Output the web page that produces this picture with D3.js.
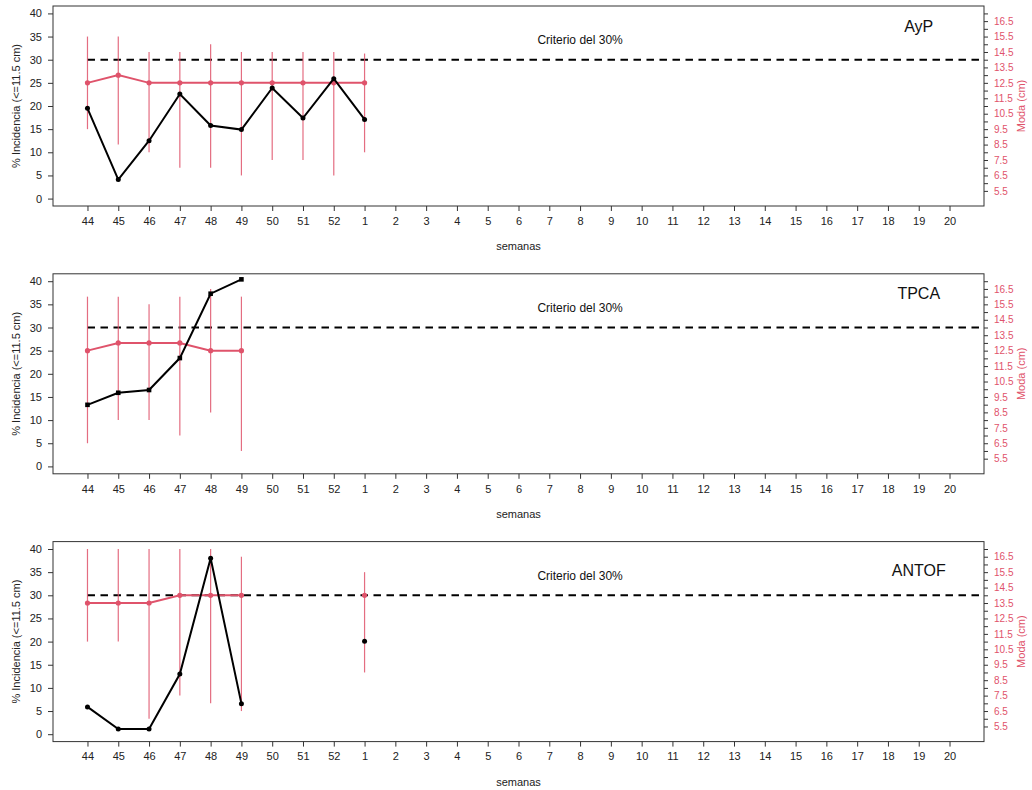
<!DOCTYPE html>
<html>
<head>
<meta charset="utf-8">
<script src="https://cdn.jsdelivr.net/npm/d3@7"></script>
<style>
  body { margin: 0; background: #fff; }
  svg { display: block; font-family: "Liberation Sans", Arial, sans-serif; }
</style>
</head>
<body>
<div id="chart"></div>
<script>
// weeks on the x axis
const weeks = ["44","45","46","47","48","49","50","51","52","1","2","3","4","5","6","7","8","9","10","11","12","13","14","15","16","17","18","19","20"];

// % incidence (<=11.5 cm), black line
const incAyP   = [19.5, 4.1, 12.5, 22.6, 15.8, 14.9, 23.9, 17.4, 25.9, 17.1];
const incTPCA  = [13.3, 15.9, 16.5, 23.4, 37.3, 40.4];
const incANTOF = [5.9, 1.1, 1.1, 13.0, 38.0, 6.6, null, null, null, 20.1];

// moda (cm), pink line + range bars
const modaAyP   = [12.5, 13, 12.5, 12.5, 12.5, 12.5, 12.5, 12.5, 12.5, 12.5];
const modaLoAyP = [9.5, 8.5, 8, 7, 7, 6.5, 7.5, 7.5, 6.5, 8];
const modaHiAyP = [15.5, 15.5, 14.5, 14.5, 15, 14.5, 14.5, 14.5, 14.5, 14.4];

const modaTPCA   = [12.5, 13, 13, 13, 12.5, 12.5];
const modaLoTPCA = [6.5, 8, 8, 7, 8.5, 6];
const modaHiTPCA = [16, 16, 15.5, 16, 16.5, 16];

const modaANTOF   = [13.5, 13.5, 13.5, 14, 14, 14, null, null, null, 14];
const modaLoANTOF = [11, 11, 6, 7.5, 7, 6.5, null, null, null, 9];
const modaHiANTOF = [17, 17, 17, 17, 17, 16.5, null, null, null, 15.5];

const incTicks  = [0, 5, 10, 15, 20, 25, 30, 35, 40];
const modaTicks = d3.range(5.5, 17.01, 0.5);
const criterio = 30;

const panels = [
  {name: "AyP",   inc: incAyP,   moda: modaAyP,   lo: modaLoAyP,   hi: modaHiAyP,   labelY: 37, square: false},
  {name: "TPCA",  inc: incTPCA,  moda: modaTPCA,  lo: modaLoTPCA,  hi: modaHiTPCA,  labelY: 37, square: true},
  {name: "ANTOF", inc: incANTOF, moda: modaANTOF, lo: modaLoANTOF, hi: modaHiANTOF, labelY: 35, square: false}
];

const W = 1032, H = 790;
const pink = "#DF536B";
const left = 53, right = 984, plotH = 200, pitch = 267.8, top0 = 6;

const svg = d3.select("#chart").append("svg")
  .attr("width", W).attr("height", H);

svg.append("rect").attr("width", W).attr("height", H).attr("fill", "#fff");

// same x scale for every panel (R style 4% padding)
const x = d3.scalePoint().domain(weeks).range([left, right]).padding(1.12);

panels.forEach((p, i) => {
  const top = top0 + i * pitch;
  const bottom = top + plotH;
  const g = svg.append("g");

  const yL = d3.scaleLinear().domain([-1.6, 41.6]).range([bottom, top]);
  const yR = d3.scaleLinear().domain([4.52, 17.48]).range([bottom, top]);

  // frame
  g.append("rect")
    .attr("x", left).attr("y", top)
    .attr("width", right - left).attr("height", plotH)
    .attr("fill", "none").attr("stroke", "#333").attr("stroke-width", 1);

  // x axis
  const ax = g.append("g").attr("transform", `translate(0,${bottom})`)
    .call(d3.axisBottom(x).tickSize(5).tickPadding(6).tickSizeOuter(0));
  ax.select(".domain").remove();
  ax.selectAll("line").attr("stroke", "#333");
  ax.selectAll("text").attr("font-size", 11).attr("fill", "#222");

  // left axis
  const ay = g.append("g").attr("transform", `translate(${left},0)`)
    .call(d3.axisLeft(yL).tickValues(incTicks).tickSize(5).tickPadding(6));
  ay.select(".domain").remove();
  ay.selectAll("line").attr("stroke", "#333");
  ay.selectAll("text").attr("font-size", 11).attr("fill", "#222");

  // right axis (moda), labels only on the x.5 ticks
  const ar = g.append("g").attr("transform", `translate(${right},0)`)
    .call(d3.axisRight(yR).tickValues(modaTicks).tickSize(4).tickPadding(6)
      .tickFormat(v => Math.round(v * 2) % 2 === 1 ? d3.format(".1f")(v) : ""));
  ar.select(".domain").remove();
  ar.selectAll("line").attr("stroke", "#333");
  ar.selectAll("text").attr("font-size", 10).attr("fill", pink);

  // axis titles
  g.append("text")
    .attr("transform", `translate(17,${top + plotH / 2}) rotate(-90)`)
    .attr("text-anchor", "middle").attr("dominant-baseline", "middle")
    .attr("font-size", 11).attr("fill", "#222")
    .text("% Incidencia (<=11.5 cm)");
  g.append("text")
    .attr("transform", `translate(1022,${top + plotH / 2}) rotate(-90)`)
    .attr("text-anchor", "middle").attr("dominant-baseline", "middle")
    .attr("font-size", 11).attr("fill", pink)
    .text("Moda (cm)");
  g.append("text")
    .attr("x", (left + right) / 2).attr("y", bottom + 44)
    .attr("text-anchor", "middle")
    .attr("font-size", 11).attr("fill", "#222")
    .text("semanas");

  // 30% criterion
  g.append("line")
    .attr("x1", x("44")).attr("x2", right)
    .attr("y1", yL(criterio)).attr("y2", yL(criterio))
    .attr("stroke", "#000").attr("stroke-width", 2)
    .attr("stroke-dasharray", "7.5,5.5");
  g.append("text")
    .attr("x", x("8")).attr("y", yL(34))
    .attr("text-anchor", "middle").attr("dominant-baseline", "middle")
    .attr("font-size", 12).attr("fill", "#111")
    .text("Criterio del 30%");

  // zone label
  g.append("text")
    .attr("x", x("19")).attr("y", yL(p.labelY))
    .attr("text-anchor", "middle").attr("dominant-baseline", "middle")
    .attr("font-size", 16).attr("fill", "#111")
    .text(p.name);

  // moda range bars
  const bars = p.moda.map((m, j) => ({w: weeks[j], lo: p.lo[j], hi: p.hi[j]})).filter(d => d.lo != null);
  g.selectAll(".bar").data(bars).enter().append("line")
    .attr("x1", d => x(d.w)).attr("x2", d => x(d.w))
    .attr("y1", d => yR(d.lo)).attr("y2", d => yR(d.hi))
    .attr("stroke", pink).attr("stroke-width", 1.2).attr("stroke-opacity", 0.85);

  // moda line
  const modaPts = p.moda.map((m, j) => ({w: weeks[j], v: m}));
  g.append("path").datum(modaPts)
    .attr("d", d3.line().defined(d => d.v != null).x(d => x(d.w)).y(d => yR(d.v)))
    .attr("fill", "none").attr("stroke", pink).attr("stroke-width", 2);
  g.selectAll(".mp").data(modaPts.filter(d => d.v != null)).enter().append("circle")
    .attr("cx", d => x(d.w)).attr("cy", d => yR(d.v)).attr("r", 2.6)
    .attr("fill", pink);

  // incidence line
  const incPts = p.inc.map((v, j) => ({w: weeks[j], v: v}));
  g.append("path").datum(incPts)
    .attr("d", d3.line().defined(d => d.v != null).x(d => x(d.w)).y(d => yL(d.v)))
    .attr("fill", "none").attr("stroke", "#000").attr("stroke-width", 2);
  const ip = incPts.filter(d => d.v != null);
  if (p.square) {
    g.selectAll(".ip").data(ip).enter().append("rect")
      .attr("x", d => x(d.w) - 2.3).attr("y", d => yL(d.v) - 2.3)
      .attr("width", 4.6).attr("height", 4.6).attr("fill", "#000");
  } else {
    g.selectAll(".ip").data(ip).enter().append("circle")
      .attr("cx", d => x(d.w)).attr("cy", d => yL(d.v)).attr("r", 2.5)
      .attr("fill", "#000");
  }
});
</script>
</body>
</html>
